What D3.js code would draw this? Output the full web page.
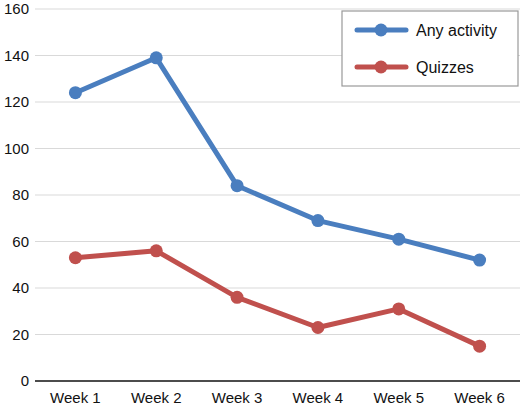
<!DOCTYPE html>
<html>
<head>
<meta charset="utf-8">
<script src="https://cdn.jsdelivr.net/npm/d3@7"></script>
<style>
  body { margin: 0; background: #fff; }
  text { font-family: "Liberation Sans", Arial, sans-serif; }
</style>
</head>
<body>
<div id="chart"></div>
<script>
var weeks = ["Week 1", "Week 2", "Week 3", "Week 4", "Week 5", "Week 6"];
var anyActivity = [124, 139, 84, 69, 61, 52];
var quizzes = [53, 56, 36, 23, 31, 15];
var yTicks = [0, 20, 40, 60, 80, 100, 120, 140, 160];

var series = [
    {name: "Any activity", values: anyActivity, color: "#4a7ebf"},
    {name: "Quizzes", values: quizzes, color: "#c0504d"}
];

var w = 520, h = 407;
var plotLeft = 35, plotRight = 520, plotTop = 9, plotBottom = 381;

var svg = d3.select("#chart").append("svg")
    .attr("width", w)
    .attr("height", h);

var x = d3.scaleBand().domain(weeks).range([plotLeft, plotRight]);
var y = d3.scaleLinear().domain([0, 160]).range([plotBottom, plotTop]);

// gridlines
svg.selectAll("line.grid")
    .data(yTicks.slice(1))
    .enter().append("line")
    .attr("x1", plotLeft).attr("x2", plotRight)
    .attr("y1", function(d){ return y(d); })
    .attr("y2", function(d){ return y(d); })
    .attr("stroke", "#d9d9d9")
    .attr("stroke-width", 1);

// y labels
svg.selectAll("text.ytick")
    .data(yTicks)
    .enter().append("text")
    .attr("x", 29)
    .attr("y", function(d){ return y(d) + 5; })
    .attr("text-anchor", "end")
    .attr("font-size", 15)
    .attr("fill", "#111")
    .text(function(d){ return d; });

// baseline
svg.append("line")
    .attr("x1", plotLeft).attr("x2", plotRight)
    .attr("y1", plotBottom).attr("y2", plotBottom)
    .attr("stroke", "#111")
    .attr("stroke-width", 1.5);

// x labels
svg.selectAll("text.xtick")
    .data(weeks)
    .enter().append("text")
    .attr("x", function(d){ return x(d) + x.bandwidth() / 2; })
    .attr("y", 403)
    .attr("text-anchor", "middle")
    .attr("font-size", 15)
    .attr("fill", "#111")
    .text(function(d){ return d; });

var line = d3.line()
    .x(function(d, i){ return x(weeks[i]) + x.bandwidth() / 2; })
    .y(function(d){ return y(d); });

series.forEach(function(s){
    svg.append("path")
        .attr("d", line(s.values))
        .attr("fill", "none")
        .attr("stroke", s.color)
        .attr("stroke-width", 5)
        .attr("stroke-linejoin", "round");
    svg.selectAll(null)
        .data(s.values)
        .enter().append("circle")
        .attr("cx", function(d, i){ return x(weeks[i]) + x.bandwidth() / 2; })
        .attr("cy", function(d){ return y(d); })
        .attr("r", 6.5)
        .attr("fill", s.color);
});

// legend
var lg = svg.append("g").attr("transform", "translate(342,11)");
lg.append("rect")
    .attr("width", 176).attr("height", 75)
    .attr("fill", "#fff")
    .attr("stroke", "#999")
    .attr("stroke-width", 1.2);
series.forEach(function(s, i){
    var cy = 19 + i * 37;
    lg.append("line")
        .attr("x1", 15).attr("x2", 64)
        .attr("y1", cy).attr("y2", cy)
        .attr("stroke", s.color)
        .attr("stroke-width", 5)
        .attr("stroke-linecap", "round");
    lg.append("circle")
        .attr("cx", 39).attr("cy", cy).attr("r", 6.5)
        .attr("fill", s.color);
    lg.append("text")
        .attr("x", 74).attr("y", cy + 6)
        .attr("font-size", 16)
        .attr("fill", "#111")
        .text(s.name);
});
</script>
</body>
</html>
